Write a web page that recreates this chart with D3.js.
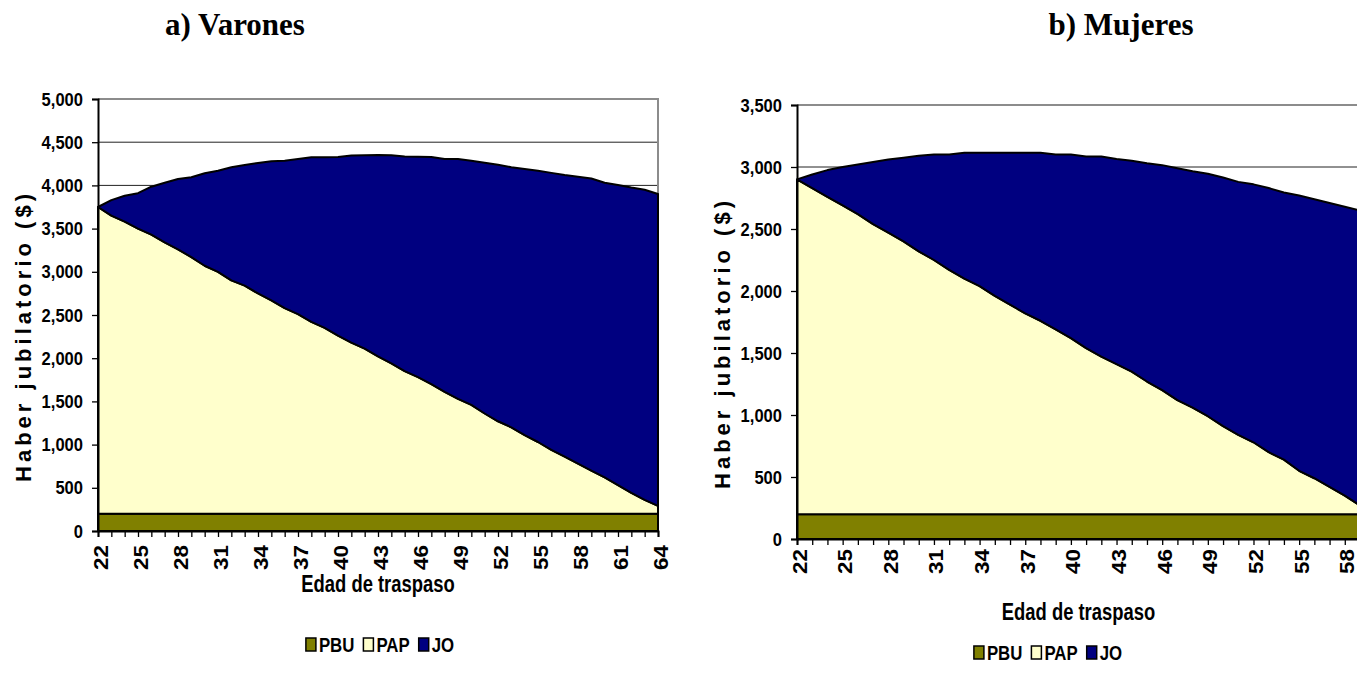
<!DOCTYPE html>
<html><head><meta charset="utf-8">
<script src="https://cdn.jsdelivr.net/npm/d3@7"></script>
<style>
body{margin:0;background:#fff;overflow:hidden}
text{font-family:"Liberation Sans",Arial,sans-serif;font-weight:bold;fill:#000}
</style>
</head><body>
<svg id="c" width="1357" height="689"></svg>
<script>
// ---------- DATA ----------
const seriesNames = ["PBU","PAP","JO"];
const seriesColors = ["#808000","#FFFFCC","#000080"];

// a) Varones: edad de traspaso 22..64
const varonesEdad = ["22","23","24","25","26","27","28","29","30","31","32","33","34","35","36","37","38","39","40","41","42","43","44","45","46","47","48","49","50","51","52","53","54","55","56","57","58","59","60","61","62","63","64"];
const varonesPBU = [200,200,200,200,200,200,200,200,200,200,200,200,200,200,200,200,200,200,200,200,200,200,200,200,200,200,200,200,200,200,200,200,200,200,200,200,200,200,200,200,200,200,200];
const varonesPAP = [3550,3450,3380,3300,3230,3140,3060,2970,2870,2800,2700,2640,2550,2470,2380,2310,2220,2150,2060,1980,1910,1820,1740,1650,1580,1500,1410,1330,1260,1160,1070,1000,910,830,740,660,580,500,420,330,240,160,90];
const varonesJO = [0,180,300,410,555,690,815,925,1070,1170,1310,1395,1510,1610,1705,1795,1905,1975,2070,2165,2240,2332,2410,2485,2552,2630,2695,2775,2825,2902,2970,3010,3080,3140,3205,3260,3320,3380,3410,3475,3535,3590,3610];
const varonesYTicks = [0,500,1000,1500,2000,2500,3000,3500,4000,4500,5000];
const varonesXLabels = ["22","25","28","31","34","37","40","43","46","49","52","55","58","61","64"];

// b) Mujeres: edad de traspaso 22..59
const mujeresEdad = ["22","23","24","25","26","27","28","29","30","31","32","33","34","35","36","37","38","39","40","41","42","43","44","45","46","47","48","49","50","51","52","53","54","55","56","57","58","59"];
const mujeresPBU = [200,200,200,200,200,200,200,200,200,200,200,200,200,200,200,200,200,200,200,200,200,200,200,200,200,200,200,200,200,200,200,200,200,200,200,200,200,200];
const mujeresPAP = [2700,2630,2560,2490,2420,2340,2270,2200,2120,2050,1970,1900,1840,1760,1690,1620,1560,1490,1420,1340,1270,1210,1150,1070,1000,920,860,790,710,640,580,500,440,350,290,220,150,70];
const mujeresJO = [0,110,215,310,400,500,590,675,770,850,930,1015,1075,1155,1225,1295,1355,1410,1480,1545,1615,1655,1700,1760,1815,1870,1905,1955,2005,2040,2080,2130,2155,2220,2250,2290,2330,2380];
const mujeresYTicks = [0,500,1000,1500,2000,2500,3000,3500];
const mujeresXLabels = ["22","25","28","31","34","37","40","43","46","49","52","55","58"];

const yTitle = "Haber jubilatorio ($)";
const xTitle = "Edad de traspaso";

// ---------- DRAW ----------
const svg = d3.select("#c");
const fmt = d3.format(",");

function condense(sel, ratio){
  sel.each(function(){
    const w = this.getComputedTextLength();
    this.setAttribute("textLength", (w*ratio).toFixed(1));
    this.setAttribute("lengthAdjust","spacingAndGlyphs");
  });
}

function drawChart(cfg){
  const g = svg.append("g");
  const table = cfg.edad.map((e,i)=>({edad:e, PBU:cfg.pbu[i], PAP:cfg.pap[i], JO:cfg.jo[i]}));
  const stack = d3.stack().keys(seriesNames)(table);
  const x = d3.scalePoint().domain(cfg.edad).range([cfg.x0, cfg.x1]).padding(0);
  const yMax = cfg.yTicks[cfg.yTicks.length-1];
  const y = d3.scaleLinear().domain([0, yMax]).range([cfg.y0, cfg.yTop]);

  // gridlines
  g.append("g").selectAll("line").data(cfg.yTicks.filter(v=>v>0 && v<yMax)).join("line")
    .attr("x1", cfg.x0).attr("x2", cfg.x1)
    .attr("y1", d=>y(d)).attr("y2", d=>y(d))
    .attr("stroke", "#222").attr("stroke-width", 1);
  // plot border (top/right) gray
  g.append("path")
    .attr("d", `M${cfg.x0},${y(yMax)}H${cfg.x1}V${cfg.y0}`)
    .attr("fill","none").attr("stroke","#8c8c8c").attr("stroke-width",2);

  // areas
  const area = d3.area().x(d=>x(d.data.edad)).y0(d=>y(d[0])).y1(d=>y(d[1]));
  g.append("g").selectAll("path").data(stack).join("path")
    .attr("d", area)
    .attr("fill", (d,i)=>seriesColors[i])
    .attr("stroke", "#000").attr("stroke-width", 2).attr("stroke-linejoin","round");

  // axes
  const ya = d3.axisLeft(y).tickValues(cfg.yTicks).tickFormat(fmt).tickSize(6).tickPadding(9);
  const yg = g.append("g").attr("transform", `translate(${cfg.x0},0)`).call(ya);
  yg.select(".domain").attr("stroke","#000").attr("stroke-width",2);
  yg.selectAll(".tick line").attr("stroke","#000").attr("stroke-width",1.3);
  yg.selectAll(".tick text").attr("font-size",19).style("font-family",'"Liberation Sans",Arial,sans-serif').style("font-weight","bold").attr("fill","#000")
    .call(condense, 0.87);

  const xa = d3.axisBottom(x).tickSize(6).tickFormat(d => cfg.xLabels.includes(d) ? d : "");
  const xg = g.append("g").attr("transform", `translate(0,${cfg.y0})`).call(xa);
  xg.select(".domain").attr("stroke","#000").attr("stroke-width",2);
  xg.selectAll(".tick line").attr("stroke","#000").attr("stroke-width",1.3);
  xg.selectAll(".tick text")
    .attr("transform","rotate(-90)")
    .attr("text-anchor","end")
    .attr("x", -cfg.xLabOff).attr("y", 2).attr("dy","0.35em")
    .attr("font-size",20).style("font-family",'"Liberation Sans",Arial,sans-serif').style("font-weight","bold").attr("fill","#000")
    .filter(function(){return this.textContent !== "";})
    .call(condense, 1.12);

  // y title
  g.append("text")
    .attr("transform", `translate(${cfg.yTitleX},${cfg.yTitleY}) rotate(-90)`)
    .attr("text-anchor","middle")
    .attr("font-size",22)
    .attr("textLength", 288).attr("lengthAdjust","spacing")
    .text(yTitle);

  // x title
  g.append("text")
    .attr("x", (cfg.x0 + cfg.x1)/2).attr("y", cfg.xTitleY)
    .attr("text-anchor","middle").attr("font-size",23)
    .text(xTitle).call(condense, 0.8);

  // chart title
  g.append("text")
    .attr("x", cfg.titleX).attr("y", 35)
    .attr("text-anchor","middle")
    .style("font-family",'"Liberation Serif","Times New Roman",serif')
    .attr("font-size",31)
    .text(cfg.title);

  // legend
  const lg = g.append("g");
  let cx = 0;
  seriesNames.forEach((s,i)=>{
    lg.append("rect").attr("x",cx).attr("y",-7).attr("width",10).attr("height",13)
      .attr("fill",seriesColors[i]).attr("stroke","#000").attr("stroke-width",1.5);
    const t = lg.append("text").attr("x",cx+13).attr("y",7).attr("font-size",21).text(s);
    t.call(condense, 0.8);
    cx += 13 + (+t.attr("textLength")) + 9;
  });
  const lw = cx - 9;
  lg.attr("transform", `translate(${cfg.legendCX - lw/2},${cfg.legendY})`);
}

drawChart({
  title:"a) Varones", titleX:235,
  edad:varonesEdad, pbu:varonesPBU, pap:varonesPAP, jo:varonesJO,
  yTicks:varonesYTicks, xLabels:varonesXLabels,
  x0:98, x1:658, y0:531, yTop:99,
  xLabOff:14, yTitleX:31, yTitleY:338, xTitleY:592,
  legendCX:380, legendY:645
});
drawChart({
  title:"b) Mujeres", titleX:1121,
  edad:mujeresEdad, pbu:mujeresPBU, pap:mujeresPAP, jo:mujeresJO,
  yTicks:mujeresYTicks, xLabels:mujeresXLabels,
  x0:797, x1:1360, y0:539, yTop:105,
  xLabOff:10, yTitleX:730, yTitleY:345, xTitleY:620,
  legendCX:1048, legendY:653
});
</script>
</body></html>
